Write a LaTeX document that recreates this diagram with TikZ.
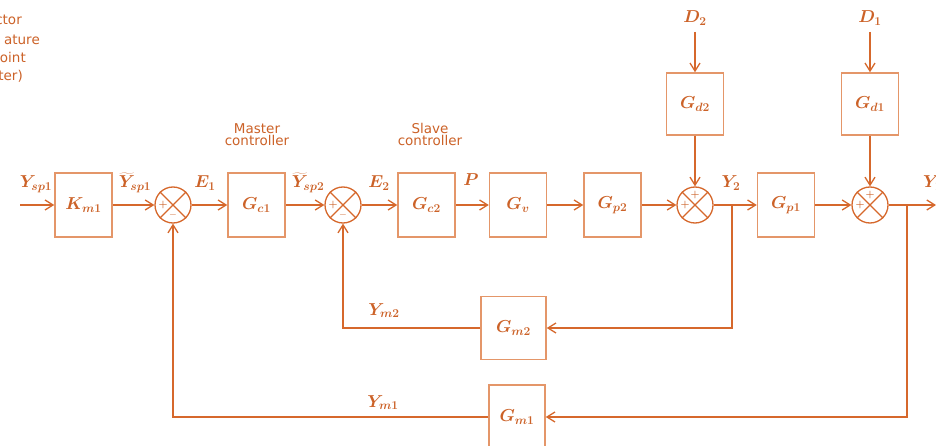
\documentclass[tikz,border=0pt]{standalone}
\usepackage{fontspec}
\setsansfont{Liberation Sans}
\newfontfamily\notefont{DejaVu Sans}
\usetikzlibrary{arrows.meta}
\definecolor{ln}{RGB}{214,104,44}
\definecolor{bx}{RGB}{228,150,105}
\definecolor{tx}{RGB}{204,98,40}
\begin{document}
\begin{tikzpicture}[x=1pt,y=-1pt,
  blk/.style={draw=bx, line width=1.5pt, minimum width=57pt, minimum height=64pt, inner sep=0pt, text=tx, font=\fontsize{18}{18}\selectfont\boldmath},
  sumc/.style={circle, draw=ln, line width=1.3pt, minimum size=36pt, inner sep=0pt},
  conn/.style={draw=ln, line width=1.7pt, -{Straight Barb[length=8pt,width=10pt,line width=1.3pt]}},
  lab/.style={text=tx, font=\fontsize{17}{17}\selectfont\boldmath, inner sep=1pt},
  sgn/.style={text=tx, font=\fontsize{10}{10}\selectfont\bfseries, inner sep=0pt},
  note/.style={text=tx, font=\notefont\fontsize{13.5}{12}\selectfont, align=center, inner sep=0pt},
  frag/.style={text=tx, font=\notefont\fontsize{13.5}{13.5}\selectfont, inner sep=0pt, anchor=base east}]
\useasboundingbox (0,0) rectangle (936,446);
\fill[white] (0,0) rectangle (936,446);

% top-left fragments
\node[frag] (f1) at (22,25) {ctor};
\node[frag] (f2) at (40,45) {ature};
\node[frag] (f3) at (26,63) {oint};
\node[frag] (f4) at (23,81) {ter)};

% blocks
\node[blk] (km1) at (83.5,205) {$K_{m1}$};
\node[sumc] (s1) at (173,205) {};
\node[blk] (gc1) at (256.5,205) {$G_{c1}$};
\node[sumc] (s2) at (343,205) {};
\node[blk] (gc2) at (426.5,205) {$G_{c2}$};
\node[blk] (gv) at (518,205) {$G_{v}$};
\node[blk] (gp2) at (612.5,205) {$G_{p2}$};
\node[sumc] (s3) at (695,205) {};
\node[blk] (gp1) at (786,205) {$G_{p1}$};
\node[sumc] (s4) at (870,205) {};
\node[blk, minimum height=62pt] (gd2) at (695,104) {$G_{d2}$};
\node[blk, minimum height=62pt] (gd1) at (870,104) {$G_{d1}$};
\node[blk, minimum width=65pt, minimum height=63pt] (gm2) at (513.5,328) {$G_{m2}$};
\node[blk, minimum width=56pt] (gm1) at (517,417) {$G_{m1}$};

% crosses and signs
\foreach \s in {s1,s2,s3,s4}{
  \draw[ln, line width=1.1pt] (\s.north east) -- (\s.south west);
  \draw[ln, line width=1.1pt] (\s.north west) -- (\s.south east);
}
\node[sgn] (p1) at ([xshift=-10pt]s1.center) {+};
\node[sgn] (m1) at ([yshift=-10pt]s1.center) {$-$};
\node[sgn] (p2) at ([xshift=-10pt]s2.center) {+};
\node[sgn] (m2) at ([yshift=-10pt]s2.center) {$-$};
\node[sgn] (p3a) at ([xshift=-10pt]s3.center) {+};
\node[sgn] (p3b) at ([yshift=10pt]s3.center) {+};
\node[sgn] (p4a) at ([xshift=-10pt]s4.center) {+};
\node[sgn] (p4b) at ([yshift=10pt]s4.center) {+};

% disturbances
\node[lab, anchor=base] (d2) at (695,23) {$D_2$};
\node[lab, anchor=base] (d1) at (870,23) {$D_1$};
\coordinate (d2s) at (695,32);
\coordinate (d1s) at (870,32);
\draw[conn] (d2s) -- (gd2.north);
\draw[conn] (d1s) -- (gd1.north);
\draw[conn] (gd2.south) -- (s3.north);
\draw[conn] (gd1.south) -- (s4.north);

% main path
\coordinate (in) at (20,205);
\coordinate (out) at (936,205);
\draw[conn] (in) -- (km1.west);
\draw[conn] (km1.east) -- (s1.west);
\draw[conn] (s1.east) -- (gc1.west);
\draw[conn] (gc1.east) -- (s2.west);
\draw[conn] (s2.east) -- (gc2.west);
\draw[conn] (gc2.east) -- (gv.west);
\draw[conn] (gv.east) -- (gp2.west);
\draw[conn] (gp2.east) -- (s3.west);
\draw[conn] (s3.east) -- (gp1.west);
\draw[conn] (gp1.east) -- (s4.west);
\draw[conn] (s4.east) -- (out);

% feedback loops
\coordinate (b2) at (732,205);
\coordinate (b1) at (907,205);
\draw[conn] (b2) |- (gm2.east);
\draw[conn] (gm2.west) -| (s2.south);
\draw[conn] (b1) |- (gm1.east);
\draw[conn] (gm1.west) -| (s1.south);

% labels
\node[lab, anchor=base] (lysp1) at (36,188) {$Y_{sp1}$};
\node[lab, anchor=base] (lyt1) at (135,188) {$\widetilde{Y}_{sp1}$};
\node[lab, anchor=base] (le1) at (205,188) {$E_1$};
\node[lab, anchor=base] (lyt2) at (308,188) {$\widetilde{Y}_{sp2}$};
\node[lab, anchor=base] (le2) at (379,188) {$E_2$};
\node[lab, anchor=base] (lp) at (471,186) {$P$};
\node[lab, anchor=base] (ly2) at (731,188) {$Y_2$};
\node[lab, anchor=base west] (ly1) at (922,188) {$Y_1$};
\node[lab, anchor=base] (lym2) at (384,315) {$Y_{m2}$};
\node[lab, anchor=base] (lym1) at (383,407) {$Y_{m1}$};
\node[note, anchor=base] (master) at (257,146) {Master\\controller};
\node[note, anchor=base] (slave) at (430,146) {Slave\\controller};
\end{tikzpicture}
\end{document}
